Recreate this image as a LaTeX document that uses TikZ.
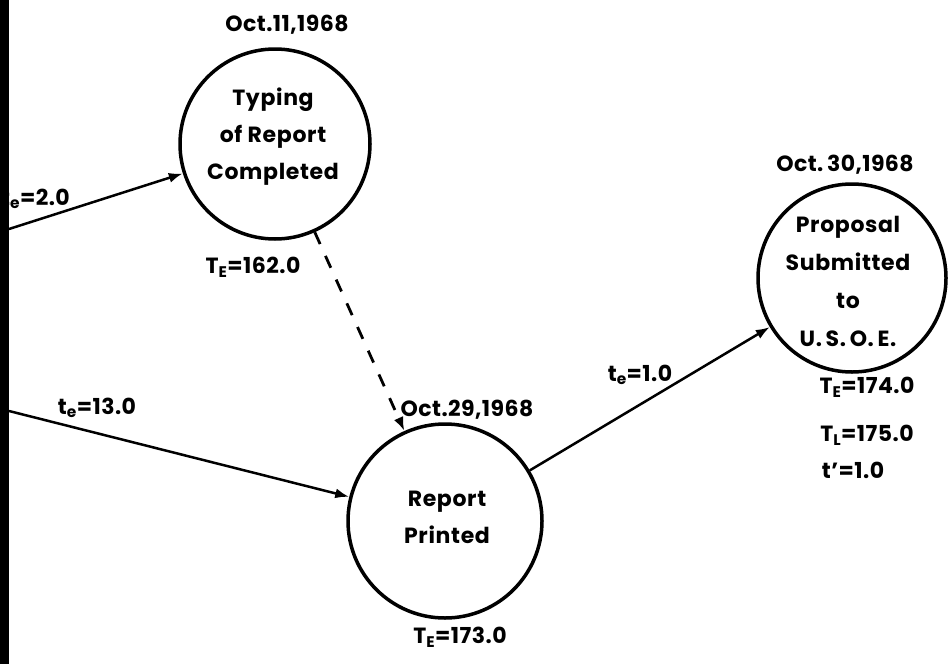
\documentclass[tikz,border=0pt]{standalone}
\usepackage{fontspec}
\setmainfont{Poppins}
\usetikzlibrary{arrows.meta}
\begin{document}
\begin{tikzpicture}[x=1pt,y=-1pt,
  evt/.style={circle,draw=black,line width=3.5pt,minimum size=#1,inner sep=0pt},
  evt/.default=190pt,
  txt/.style={align=center,font=\bfseries\fontsize{22}{37}\selectfont\addfontfeatures{LetterSpace=3},inner sep=0pt},
  lbl/.style={font=\bfseries\fontsize{22}{24}\selectfont\addfontfeatures{LetterSpace=2},inner sep=0pt},
  arr/.style={line width=2.5pt,-{Latex[length=14pt,width=10pt]}},
  dsh/.style={line width=2.8pt,dash pattern=on 13pt off 13pt,-{Latex[length=14pt,width=10pt]}}]
\useasboundingbox (0,0) rectangle (952,664);
\fill[white] (0,0) rectangle (952,664);
% events
\node[evt=190pt] (c1) at (275,144) {};
\node[evt=194pt] (c2) at (445,521) {};
\node[evt=188pt] (c3) at (852,278) {};
\node[txt] (c1t) at (273,137) {Typing\\of Report\\Completed};
\node[txt] (c2t) at (447,517) {Report\\Printed};
\node[txt,font=\bfseries\fontsize{22}{38}\selectfont\addfontfeatures{LetterSpace=3}] (c3t) at (848,281) {Proposal\\Submitted\\to\\U.\,S.\,O.\,E.};
% dates
\node[lbl] (d1) at (287,25) {Oct.11,1968};
\node[lbl] (d2) at (467,410) {Oct.29,1968};
\node[lbl] (d3) at (845,165) {Oct.\,30,1968};
% times
\node[lbl] (e1) at (253,267) {T\textsubscript{E}=162.0};
\node[lbl] (e2) at (460,637) {T\textsubscript{E}=173.0};
\node[lbl] (e3) at (867,387) {T\textsubscript{E}=174.0};
\node[lbl] (l3) at (867,435) {T\textsubscript{L}=175.0};
\node[lbl] (s3) at (853,470) {t'=1.0};
% activity labels
\node[lbl,anchor=east] (a1) at (70,199) {t\textsubscript{e}=2.0};
\node[lbl] (a2) at (97,408) {t\textsubscript{e}=13.0};
\node[lbl] (a3) at (640,375) {t\textsubscript{e}=1.0};
% connectors
\coordinate (s1) at (9,229);
\coordinate (s2) at (9,411);
\draw[arr] (s1) -- (c1);
\draw[arr] (s2) -- (c2);
\draw[arr] (c2) -- (c3);
\draw[dsh] (c1) -- (c2);
% scanned page edge
\fill[black] (0,0) rectangle (9,664);
\end{tikzpicture}
\end{document}
